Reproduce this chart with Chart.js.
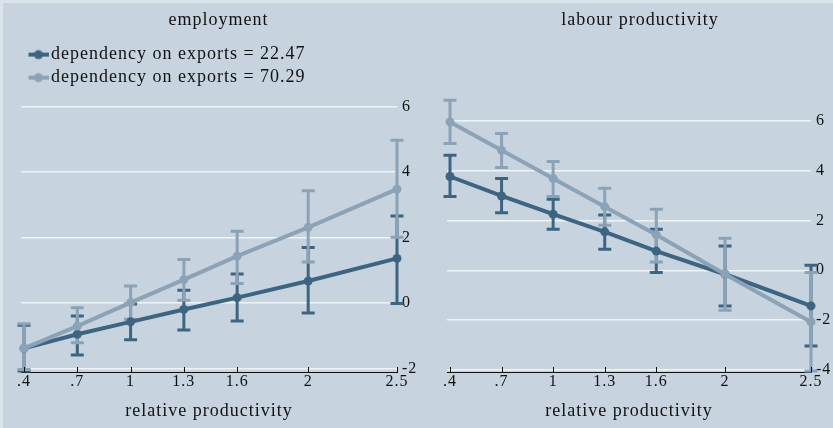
<!DOCTYPE html>
<html>
<head>
<meta charset="utf-8">
<script src="https://cdn.jsdelivr.net/npm/chart.js@4/dist/chart.umd.min.js"></script>
<style>
  html, body { margin: 0; padding: 0; width: 833px; height: 428px; overflow: hidden; background: #c7d4df; }
  #wrap { position: relative; width: 833px; height: 428px; }
  canvas { position: absolute; top: 0; }
  #edgeTop { position: absolute; left: 0; top: 0; width: 833px; height: 3px; background: #dbe4eb; }
  #edgeLeft { position: absolute; left: 0; top: 0; width: 3px; height: 428px; background: #dbe4eb; }
</style>
</head>
<body>
<div id="wrap">
  <canvas id="emp" width="416" height="428" style="left:0"></canvas>
  <canvas id="lab" width="417" height="428" style="left:416px"></canvas>
  <div id="edgeTop"></div>
  <div id="edgeLeft"></div>
</div>
<script>
// relative productivity values on the x axis and their printed labels
const xValues = [0.4, 0.7, 1, 1.3, 1.6, 2, 2.5];
const xTickLabels = ['.4', '.7', '1', '1.3', '1.6', '2', '2.5'];
const seriesNames = ['dependency on exports = 22.47', 'dependency on exports = 70.29'];

// employment: estimate and confidence band for each export dependency
const empLow   = [-1.39, -0.96, -0.58, -0.20, 0.16, 0.67, 1.36];
const empLowLo = [-2.08, -1.59, -1.13, -0.83, -0.55, -0.31, -0.02];
const empLowHi = [-0.68, -0.40, -0.03, 0.39, 0.88, 1.69, 2.66];
const empHigh   = [-1.39, -0.71, 0.01, 0.71, 1.43, 2.31, 3.48];
const empHighLo = [-2.04, -1.22, -0.50, 0.08, 0.59, 1.25, 2.01];
const empHighHi = [-0.64, -0.15, 0.52, 1.33, 2.19, 3.43, 4.97];

// labour productivity: estimate and confidence band for each export dependency
const labLow   = [3.76, 2.98, 2.25, 1.54, 0.77, -0.16, -1.43];
const labLowLo = [2.96, 2.31, 1.64, 0.84, -0.09, -1.43, -3.04];
const labLowHi = [4.61, 3.68, 2.85, 2.22, 1.64, 0.97, 0.20];
const labHigh   = [5.95, 4.81, 3.68, 2.55, 1.42, -0.16, -2.07];
const labHighLo = [5.08, 4.12, 2.96, 1.81, 0.33, -1.60, -4.04];
const labHighHi = [6.82, 5.48, 4.36, 3.29, 2.45, 1.28, -0.09];

const empYTicks = [-2, 0, 2, 4, 6];
const labYTicks = [-4, -2, 0, 2, 4, 6];

const darkColor = '#3d6582';
const lightColor = '#8ca2b7';
const fontFamily = '"Liberation Serif", "Times New Roman", serif';

// legend key: a short line with a dot in the middle
function legendKey(color) {
  const c = document.createElement('canvas');
  c.width = 29; c.height = 12;
  const g = c.getContext('2d');
  g.strokeStyle = color; g.lineWidth = 4;
  g.beginPath(); g.moveTo(9, 6); g.lineTo(29, 6); g.stroke();
  g.fillStyle = color;
  g.beginPath(); g.arc(19, 6, 4.5, 0, Math.PI * 2); g.fill();
  return c;
}

// spaced-out lettering on every canvas text
const letterSpacing = {
  id: 'letterSpacing',
  beforeLayout(chart) { chart.ctx.letterSpacing = '1px'; },
  beforeDraw(chart) { chart.ctx.letterSpacing = '1px'; }
};

// keep the in-plot legend anchored to the top of the plot area
const legendInPlot = {
  id: 'legendInPlot',
  afterLayout(chart) {
    const lg = chart.legend;
    if (!lg || !lg.options.display) return;
    const h = lg.bottom - lg.top;
    lg.top = chart.chartArea.top;
    lg.bottom = lg.top + h;
  }
};

// vertical confidence bars with end caps, drawn under the lines
const errorBars = {
  id: 'errorBars',
  beforeDatasetsDraw(chart) {
    const { ctx, scales: { x, y } } = chart;
    chart.data.datasets.forEach(ds => {
      ctx.save();
      ctx.strokeStyle = ds.borderColor;
      ctx.lineWidth = 3;
      ds.data.forEach((pt, i) => {
        const px = x.getPixelForValue(pt.x);
        const yl = y.getPixelForValue(ds.ciLow[i]);
        const yh = y.getPixelForValue(ds.ciHigh[i]);
        ctx.beginPath();
        ctx.moveTo(px, yl); ctx.lineTo(px, yh);
        ctx.moveTo(px - 6.5, yl); ctx.lineTo(px + 6.5, yl);
        ctx.moveTo(px - 6.5, yh); ctx.lineTo(px + 6.5, yh);
        ctx.stroke();
      });
      ctx.restore();
    });
  }
};

// short tick marks pointing up from the x axis line
const xTickMarks = {
  id: 'xTickMarks',
  afterDraw(chart) {
    const { ctx, chartArea, scales: { x } } = chart;
    ctx.save();
    ctx.strokeStyle = '#111'; ctx.lineWidth = 1;
    xValues.forEach(v => {
      const px = Math.round(x.getPixelForValue(v)) + 0.5;
      ctx.beginPath();
      ctx.moveTo(px, chartArea.bottom);
      ctx.lineTo(px, chartArea.bottom - 5);
      ctx.stroke();
    });
    ctx.restore();
  }
};

function points(vals) { return vals.map((v, i) => ({ x: xValues[i], y: v })); }

function makeChart(id, title, low, lowLo, lowHi, high, highLo, highHi, yTicks, yMin, yMax, xMin, padLeft, yWidth, showLegend) {
  return new Chart(document.getElementById(id), {
    type: 'line',
    data: {
      datasets: [
        { label: seriesNames[0], data: points(low), ciLow: lowLo, ciHigh: lowHi,
          borderColor: darkColor, backgroundColor: darkColor, pointBackgroundColor: darkColor,
          borderWidth: 4, pointRadius: 4.5, pointBorderWidth: 0, tension: 0, clip: false, order: 1 },
        { label: seriesNames[1], data: points(high), ciLow: highLo, ciHigh: highHi,
          borderColor: lightColor, backgroundColor: lightColor, pointBackgroundColor: lightColor,
          borderWidth: 4, pointRadius: 4.5, pointBorderWidth: 0, tension: 0, clip: false, order: 0 }
      ]
    },
    options: {
      responsive: false,
      animation: false,
      devicePixelRatio: 1,
      layout: { padding: { left: padLeft, right: 0, top: 0, bottom: 0 } },
      scales: {
        x: {
          type: 'linear', min: xMin, max: 2.5,
          afterBuildTicks(scale) { scale.ticks = xValues.map(v => ({ value: v })); },
          afterFit(scale) { scale.height = 56; },
          ticks: { autoSkip: false, maxRotation: 0, padding: -8, color: '#111',
                   font: { family: fontFamily, size: 16 },
                   callback(value, index) { return xTickLabels[index]; } },
          grid: { display: false },
          border: { display: true, color: '#111', width: 1 },
          title: { display: true, text: 'relative productivity', color: '#111',
                   font: { family: fontFamily, size: 18 }, padding: { top: 4, bottom: 6 } }
        },
        y: {
          type: 'linear', position: 'right', min: yMin, max: yMax,
          afterBuildTicks(scale) { scale.ticks = yTicks.map(v => ({ value: v })); },
          afterFit(scale) { scale.width = yWidth; },
          ticks: { padding: 5, color: '#111', font: { family: fontFamily, size: 16 } },
          grid: { color: '#eef3f7', lineWidth: 1.5, drawTicks: false },
          border: { display: false }
        }
      },
      plugins: {
        title: { display: true, text: title, color: '#111',
                 font: { family: fontFamily, size: 18, weight: 'normal' },
                 padding: { top: 9, bottom: 10 } },
        legend: {
          display: showLegend, position: 'chartArea', align: 'start',
          labels: {
            usePointStyle: true, pointStyleWidth: 16, padding: 5, color: '#111',
            font: { family: fontFamily, size: 18 },
            generateLabels(chart) {
              return chart.data.datasets.map((ds, i) => ({
                text: ds.label, pointStyle: legendKey(ds.borderColor),
                fillStyle: ds.borderColor, strokeStyle: ds.borderColor, lineWidth: 0,
                hidden: false, datasetIndex: i, fontColor: '#111'
              }));
            }
          }
        },
        tooltip: { enabled: false }
      }
    },
    plugins: [letterSpacing, legendInPlot, errorBars, xTickMarks]
  });
}

makeChart('emp', 'employment', empLow, empLowLo, empLowHi, empHigh, empHighLo, empHighHi,
          empYTicks, -2.113, 8.02, 0.383, 21, 19, true);
makeChart('lab', 'labour productivity', labLow, labLowLo, labLowHi, labHigh, labHighLo, labHighHi,
          labYTicks, -4.08, 9.21, 0.3825, 31, 22, false);
</script>
</body>
</html>
